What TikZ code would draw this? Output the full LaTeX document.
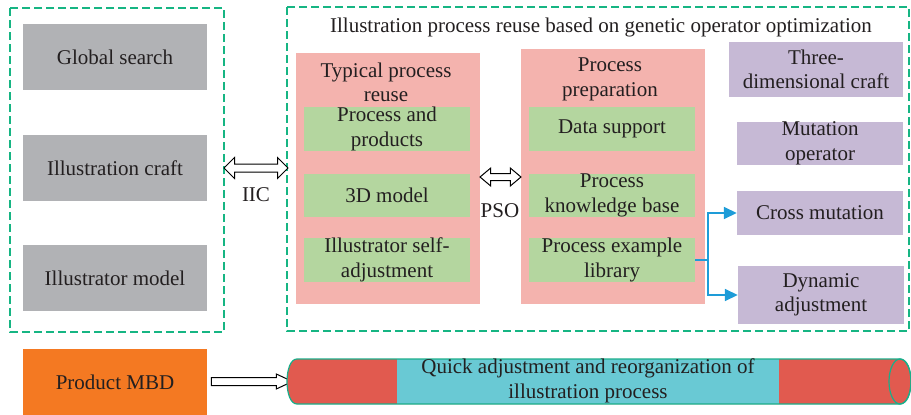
\documentclass[tikz,border=0pt]{standalone}
\usepackage{fontspec}
\setmainfont{Liberation Serif}
\usetikzlibrary{shapes.arrows,arrows.meta,calc}
\definecolor{txt}{HTML}{231F20}
\definecolor{cgray}{HTML}{B1B2B5}
\definecolor{cpink}{HTML}{F4B3AE}
\definecolor{cgreen}{HTML}{B4D69F}
\definecolor{cpurple}{HTML}{C6B9D5}
\definecolor{corange}{HTML}{F47922}
\definecolor{cred}{HTML}{E15A4F}
\definecolor{ccyan}{HTML}{69C9D4}
\definecolor{cdash}{HTML}{16B583}
\definecolor{cblue}{HTML}{1E9CD8}
\definecolor{cedge}{HTML}{1AAE8A}
\tikzset{
  bx/.style 2 args={rectangle, minimum width=#1pt, minimum height=#2pt},
  graybox/.style={fill=cgray},
  pinkbox/.style={fill=cpink},
  greenbox/.style={fill=cgreen},
  purplebox/.style={fill=cpurple},
  dashbox/.style={draw=cdash, line width=2.8pt, dash pattern=on 8pt off 4pt},
  hollow/.style={draw=black, fill=white, line width=1pt, text opacity=0},
  bluearrow/.style={draw=cblue, line width=1.6pt, -{Triangle[length=13pt,width=12pt]}},
}
\begin{document}
\begin{tikzpicture}[x=1pt,y=-1pt,
  every node/.style={text=txt, font=\fontsize{21}{24.5}\selectfont, align=center, inner sep=0pt}]
\useasboundingbox (0,0) rectangle (911,415);

% dashed containers
\draw[dashbox] (10,8) rectangle (224,332);
\draw[dashbox] (287,7) rectangle (909,331);

% left column
\node[graybox, bx={184}{66}] (gs) at (115,57) {Global search};
\node[graybox, bx={184}{66}] (ic) at (115,168) {Illustration craft};
\node[graybox, bx={184}{66}] (im) at (115,278) {Illustrator model};

% title
\node (title) at (601,27) {Illustration process reuse based on genetic operator optimization};

% pink 1
\node[pinkbox, bx={184}{251}] (pk1) at (388,178.5) {};
\node[font=\fontsize{21}{24}\selectfont] (pk1t) at (386,82.5) {Typical process\\reuse};
\node[greenbox, bx={166}{44}] (g1) at (387,129) {Process and\\products};
\node[greenbox, bx={166}{43}] (g2) at (387,195.5) {3D model};
\node[greenbox, bx={166}{43}] (g3) at (387,260) {Illustrator self-\\adjustment};

% pink 2
\node[pinkbox, bx={184}{255}] (pk2) at (613,176.5) {};
\node (pk2t) at (610,79.5) {Process\\preparation};
\node[greenbox, bx={166}{44}] (g4) at (612,129) {Data support};
\node[greenbox, bx={166}{43}] (g5) at (612,195.5) {Process\\knowledge base};
\node[greenbox, bx={166}{43}] (g6) at (612,260) {Process example\\library};

% purple
\node[purplebox, bx={174}{55}] (p1) at (816,69.5) {Three-\\dimensional craft};
\node[purplebox, bx={166}{43}] (p2) at (820,143.5) {Mutation\\operator};
\node[purplebox, bx={166}{44}] (p3) at (820,213) {Cross mutation};
\node[purplebox, bx={166}{58}] (p4) at (821,295) {Dynamic\\adjustment};

% blue arrows
\coordinate (jn) at ($(g6.east)+(13,0)$);
\draw[bluearrow] (g6.east) -- (jn) |- (p3.west);
\draw[bluearrow] (g6.east) -- (jn) |- (p4.west);

% double arrows
\node[hollow, double arrow, minimum height=64pt, minimum width=20pt, inner sep=3.5pt,
      double arrow head extend=6.5pt] (iic) at (256,168) {};
\node (iiclabel) at (256,195) {IIC};
\node[hollow, double arrow, minimum height=41pt, minimum width=17pt, inner sep=3pt,
      double arrow head extend=5.5pt, double arrow tip angle=80] (pso) at (500.5,177) {};
\node (psolabel) at (500,211) {PSO};

% bottom
\node[fill=corange, bx={184}{66}] (mbd) at (115,382) {Product MBD};
\coordinate (cylw) at (288,381);
\node[hollow, single arrow, minimum height=81pt, minimum width=14pt, inner sep=3.5pt,
      single arrow head extend=3.5pt, single arrow tip angle=50] (mbdarrow) at ($(mbd.east)!0.5!(cylw)$) {};

% cylinder
\fill[cred] (297,359) -- (900,359) .. controls (914.7,359) and (914.7,404) .. (900,404)
  -- (297,404) .. controls (283.7,404) and (283.7,359) .. (297,359) -- cycle;
\fill[ccyan] (397,359) rectangle (779,404);
\draw[cedge, line width=1.2pt] (297,359) -- (900,359) .. controls (914.7,359) and (914.7,404) .. (900,404)
  -- (297,404) .. controls (283.7,404) and (283.7,359) .. (297,359) -- cycle;
\draw[cedge, line width=1.2pt] (900,381.5) ellipse [x radius=11pt, y radius=22.5pt];
\node (cyltext) at (588,381) {Quick adjustment and reorganization of\\illustration process};
\end{tikzpicture}
\end{document}
